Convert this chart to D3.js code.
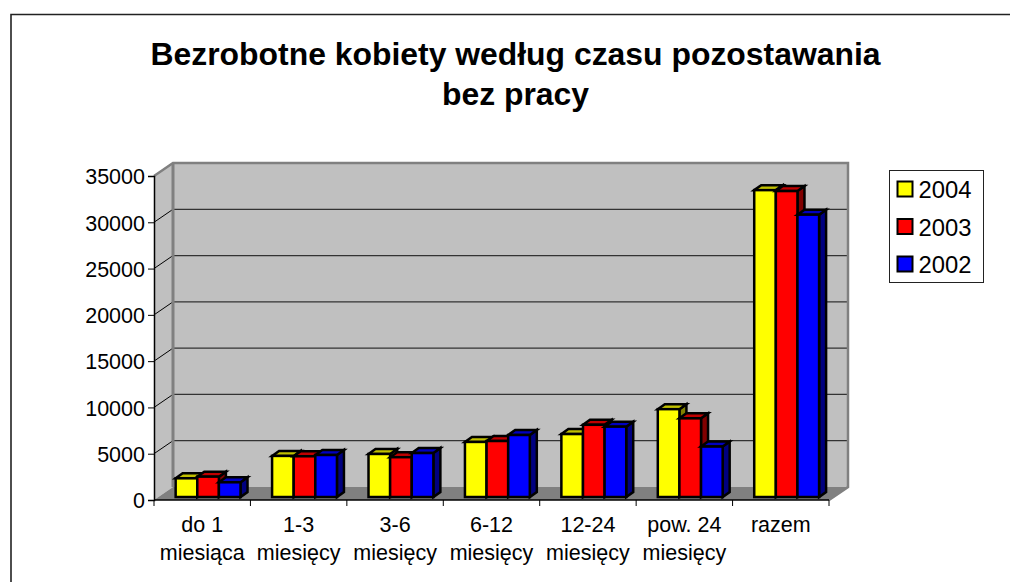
<!DOCTYPE html>
<html><head><meta charset="utf-8">
<script src="https://cdn.jsdelivr.net/npm/d3@7/dist/d3.min.js"></script>
<style>html,body{margin:0;padding:0;background:#fff}svg{display:block}text{font-family:"Liberation Sans",Arial,sans-serif;fill:#000}</style>
</head><body><svg id="c" width="1010" height="582"></svg>
<script>
const titleLines = ["Bezrobotne kobiety według czasu pozostawania", "bez pracy"];
const categories = [["do 1","miesiąca"],["1-3","miesięcy"],["3-6","miesięcy"],["6-12","miesięcy"],["12-24","miesięcy"],["pow. 24","miesięcy"],["razem"]];
const years = ["2004","2003","2002"];
const values2004 = [2020,4440,4650,5950,6800,9490,33150];
const values2003 = [2200,4400,4300,6050,7800,8500,33050];
const values2002 = [1590,4540,4750,6700,7600,5450,30500];
const yTicks = [0,5000,10000,15000,20000,25000,30000,35000];
const front = ["#ffff00","#ff0000","#0000ff"];
const top_ = ["#c0c000","#c00000","#0000c0"];
const side = ["#808000","#800000","#000080"];

const svg = d3.select("#c");
const L=154, R=829, B=500, T=176, DX=19, DY=-13;
const x = d3.scaleBand().domain(d3.range(categories.length)).range([L,R]);
const y = d3.scaleLinear().domain([0,35000]).range([B,T]);
const inner = d3.scaleBand().domain(d3.range(3)).range([0,x.bandwidth()]).paddingOuter(0.73).paddingInner(0);
const line=(g,x1,y1,x2,y2,c,w)=>g.append("line").attr("x1",x1).attr("y1",y1).attr("x2",x2).attr("y2",y2).attr("stroke",c).attr("stroke-width",w);

// frame: left and top edges only
svg.append("path").attr("d","M11,582V14.5H1010").attr("fill","none").attr("stroke","#222").attr("stroke-width",1.6);

// title
svg.selectAll(".t").data(titleLines).join("text").attr("x",515.5).attr("y",(d,i)=>65+i*40)
  .attr("text-anchor","middle").attr("font-size",31.9).attr("font-weight","bold").text(d=>d);

// walls and floor
svg.append("polygon").attr("points",[[L,B],[L,T],[L+DX,T+DY],[L+DX,B+DY]].join(" ")).attr("fill","#c0c0c0");
svg.append("polygon").attr("points",[[L+DX,T+DY],[R+DX,T+DY],[R+DX,B+DY],[L+DX,B+DY]].join(" ")).attr("fill","#c0c0c0");
svg.append("polygon").attr("points",[[L,B],[L+DX,B+DY],[R+DX,B+DY],[R,B]].join(" ")).attr("fill","#808080");

// gridlines
yTicks.slice(1,-1).forEach(v=>{
  line(svg,L,y(v),L+DX,y(v)+DY,"#000",1);
  line(svg,L+DX,y(v)+DY,R+DX,y(v)+DY,"#333",1.2);
});
// wall edges
svg.append("path").attr("d",`M${L},${T}L${L+DX},${T+DY}H${R+DX}V${B+DY}L${R},${B}`).attr("fill","none").attr("stroke","#808080").attr("stroke-width",2.5);
line(svg,L+DX,T+DY,L+DX,B+DY,"#808080",3);

// axes
const yAxis = d3.axisLeft(y).tickValues(yTicks).tickSize(6).tickPadding(3).tickFormat(d3.format("d"));
const gy = svg.append("g").attr("transform",`translate(${L},0)`).call(yAxis);
gy.select(".domain").attr("stroke","#000").attr("stroke-width",1.5);
gy.selectAll("text").attr("font-size",21.5).attr("font-family",'"Liberation Sans",Arial,sans-serif').attr("dy","0.36em");
const xTickPos = d3.range(categories.length+1).map(i=>L+i*x.step());
xTickPos.forEach(p=>line(svg,p,B,p,B+6,"#000",1));
line(svg,L,B,R,B,"#000",1.5);

// category labels
const gc = svg.selectAll(".c").data(categories).join("text").attr("text-anchor","middle").attr("font-size",21.5);
gc.selectAll("tspan").data(d=>d).join("tspan").text(d=>d);
gc.each(function(d,i){
  d3.select(this).selectAll("tspan").attr("x",x(i)+x.bandwidth()/2).attr("y",(t,j)=>532+j*28);
});

// 3D bars
const series=[values2004,values2003,values2002];
const zF=0.23, bdx=7, bdy=-5, nudge=1.5;
const ox=DX*zF+nudge, oy=DY*zF;
const bars=svg.append("g").attr("stroke","#000").attr("stroke-width",2.5).attr("stroke-linejoin","miter");
categories.forEach((c,i)=>{
  [0,1,2].forEach(s=>{
    const v=series[s][i];
    const x0=x(i)+inner(s)+ox, w=inner.bandwidth(), y0=B+oy, yt=y(v)+oy;
    const g=bars.append("g");
    g.append("polygon").attr("points",[[x0+w,y0],[x0+w,yt],[x0+w+bdx,yt+bdy],[x0+w+bdx,y0+bdy]].join(" ")).attr("fill",side[s]);
    g.append("polygon").attr("points",[[x0,yt],[x0+bdx,yt+bdy],[x0+w+bdx,yt+bdy],[x0+w,yt]].join(" ")).attr("fill",top_[s]);
    g.append("rect").attr("x",x0).attr("y",yt).attr("width",w).attr("height",y0-yt).attr("fill",front[s]);
  });
});

// legend
svg.append("rect").attr("x",889.5).attr("y",170.5).attr("width",94).attr("height",112).attr("fill","#fff").attr("stroke","#222").attr("stroke-width",1);
const ly=d3.scalePoint().domain(years).range([189,264]);
years.forEach((yr,i)=>{
  svg.append("rect").attr("x",897.5).attr("y",ly(yr)-7.5).attr("width",15).attr("height",15).attr("fill",front[i]).attr("stroke","#000").attr("stroke-width",2);
  svg.append("text").attr("x",918.5).attr("y",ly(yr)+9).attr("font-size",23.8).text(yr);
});
</script></body></html>
